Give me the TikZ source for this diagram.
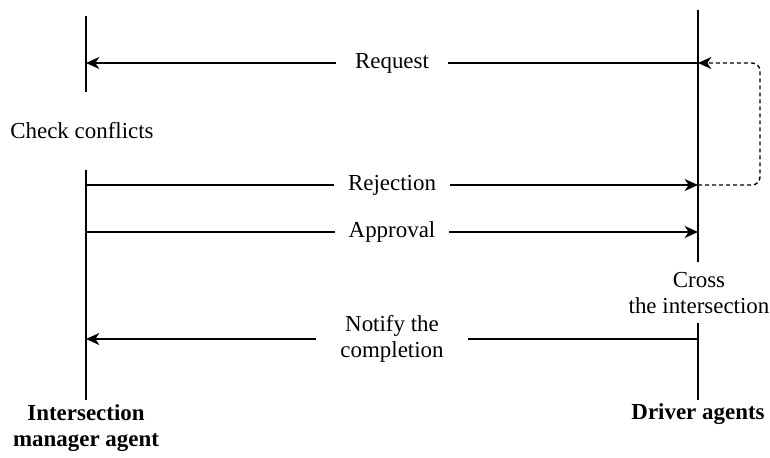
\documentclass[tikz,border=0pt]{standalone}
\usepackage{fontspec}
\setmainfont{Liberation Serif}
\usetikzlibrary{arrows.meta}
\begin{document}
\begin{tikzpicture}[x=0.75pt,y=-0.75pt,
  font=\fontsize{17.2}{19.5}\selectfont,
  life/.style={line width=1.05pt},
  msg/.style={line width=1.05pt,-{Stealth[length=10pt,width=9pt,inset=3pt]}},
  lbl/.style={fill=white,inner ysep=1pt,align=center},
  role/.style={font=\fontsize{17.2}{19.5}\selectfont\bfseries,align=center}]
\useasboundingbox (0,0) rectangle (770,457);

% lifeline end points
\coordinate (L1t) at (86,16);  \coordinate (L1b) at (86,92);
\coordinate (L2t) at (86,170); \coordinate (L2b) at (86,400);
\coordinate (R1t) at (698,10); \coordinate (R1b) at (698,262);
\coordinate (R2t) at (698,323); \coordinate (R2b) at (698,400);

\draw[life] (L1t) -- (L1b);
\draw[life] (L2t) -- (L2b);
\draw[life] (R1t) -- (R1b);
\draw[life] (R2t) -- (R2b);

% activity texts and roles
\node (check) at (82,131) {Check conflicts};
\node[align=center] (cross) at (699,293) {Cross\\the intersection};
\node[role] (ima) at (86,428) {Intersection\\manager agent};
\node[role] (drv) at (698,414) {Driver agents};

% message anchors on the lifelines
\coordinate (reqR) at (698,63);  \coordinate (reqL) at (86,63);
\coordinate (rejL) at (86,185);  \coordinate (rejR) at (698,185);
\coordinate (appL) at (86,232);  \coordinate (appR) at (698,232);
\coordinate (notR) at (698,339); \coordinate (notL) at (86,339);
\coordinate (loopB) at (760,185); \coordinate (loopT) at (760,63);

\draw[msg] (reqR) -- node[lbl,inner xsep=14.5pt] (req) {Request} (reqL);
\draw[msg] (rejL) -- node[lbl,inner xsep=10.5pt] (rej) {Rejection} (rejR);
\draw[msg] (appL) -- node[lbl,inner xsep=10.5pt] (app) {Approval} (appR);
\draw[msg] (notR) -- node[lbl,inner xsep=18pt] (not) {Notify the\\completion} (notL);

% retry loop after a rejection
\draw[msg,dash pattern=on 3pt off 2.25pt,rounded corners=6pt]
  (rejR) -- (loopB) -- (loopT) -- (reqR);
\end{tikzpicture}
\end{document}
